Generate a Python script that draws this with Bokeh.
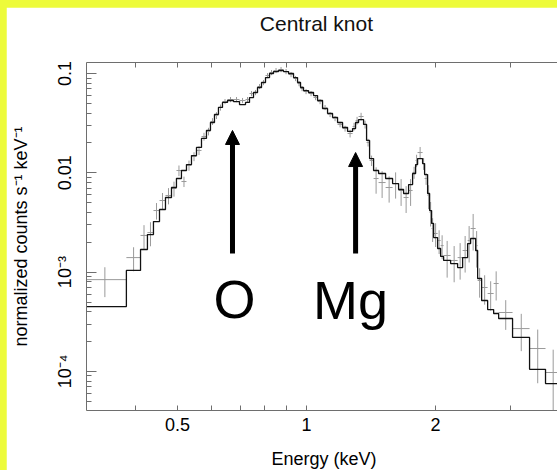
import numpy as np
from bokeh.plotting import figure
from bokeh.models import LogAxis, FixedTicker, Range1d, Arrow, NormalHead, Label
from bokeh.layouts import column
from bokeh.embed import file_html
from bokeh.resources import INLINE

# Central knot spectrum: folded model (histogram) and binned data, per energy channel
bin_edges = [
    0.297, 0.380, 0.410, 0.4255, 0.4395, 0.454, 0.4688, 0.4842, 0.4973, 0.5108,
    0.5248, 0.5391, 0.5538, 0.5689, 0.5843, 0.5970, 0.6100, 0.6232, 0.6368, 0.6542,
    0.6756, 0.6978, 0.7207, 0.7363, 0.7523, 0.7687, 0.7854, 0.8024, 0.8199, 0.8377,
    0.8605, 0.8840, 0.9081, 0.9328, 0.9531, 0.9686, 0.9843, 1.0111, 1.0387, 1.0613,
    1.0902, 1.1199, 1.1504, 1.1817, 1.2139, 1.2470, 1.2810, 1.3018, 1.3230, 1.3590,
    1.3811, 1.4036, 1.4341, 1.4731, 1.5297, 1.5883, 1.6403, 1.6850, 1.7309, 1.7685,
    1.7973, 1.8167, 1.8662, 1.8864, 1.9171, 1.9378, 1.9587, 1.9799, 2.0229, 2.0558,
    2.0892, 2.1693, 2.2524, 2.3138, 2.3768, 2.4155, 2.4813, 2.5081, 2.5626, 2.6467,
    2.7335, 2.8080, 3.0259, 3.3153, 3.6121, 3.9156,
]

model_rate = [
    4.50e-4, 1.04e-3, 1.69e-3, 2.39e-3, 3.23e-3, 4.27e-3, 5.64e-3, 7.11e-3, 8.76e-3, 1.055e-2,
    1.21e-2, 1.49e-2, 1.80e-2, 2.22e-2, 2.67e-2, 3.21e-2, 3.87e-2, 4.55e-2, 5.11e-2, 5.35e-2,
    5.22e-2, 4.87e-2, 5.11e-2, 5.73e-2, 6.44e-2, 7.23e-2, 8.12e-2, 9.11e-2, 0.100, 0.1047,
    0.1072, 0.1047, 0.100, 9.11e-2, 8.12e-2, 7.23e-2, 6.74e-2, 6.44e-2, 6.00e-2, 5.35e-2,
    4.44e-2, 3.96e-2, 3.61e-2, 3.21e-2, 2.86e-2, 2.61e-2, 2.79e-2, 3.21e-2, 3.44e-2, 3.07e-2,
    2.12e-2, 1.39e-2, 1.055e-2, 9.84e-3, 8.76e-3, 7.80e-3, 6.79e-3, 6.19e-3, 7.62e-3, 9.84e-3,
    1.21e-2, 1.39e-2, 1.24e-2, 9.61e-3, 6.19e-3, 4.17e-3, 3.09e-3, 2.23e-3, 1.73e-3, 1.44e-3,
    1.31e-3, 1.22e-3, 1.11e-3, 1.40e-3, 1.94e-3, 2.18e-3, 1.65e-3, 8.62e-4, 5.18e-4, 4.20e-4,
    3.83e-4, 3.41e-4, 2.20e-4, 1.05e-4, 7.55e-5,
]

data_rate = [
    8.4e-4, 1.40e-3, 2.34e-3, 2.50e-3, 4.17e-3, 5.26e-3, 5.91e-3, 6.95e-3, 1.055e-2, 8.17e-3,
    1.19e-2, 1.46e-2, 1.68e-2, 2.32e-2, 2.61e-2, 3.29e-2, 3.78e-2, 4.55e-2, 5.22e-2, 5.47e-2,
    5.47e-2, 5.35e-2, 5.47e-2, 6.29e-2, 6.44e-2, 7.40e-2, 8.12e-2, 9.54e-2, 0.1023, 0.1072,
    0.1097, 0.1047, 9.77e-2, 8.91e-2, 7.93e-2, 7.06e-2, 6.59e-2, 6.29e-2, 5.73e-2, 5.22e-2,
    4.55e-2, 3.87e-2, 3.52e-2, 3.07e-2, 2.79e-2, 2.49e-2, 2.93e-2, 3.36e-2, 3.69e-2, 3.07e-2,
    2.02e-2, 1.33e-2, 8.76e-3, 7.98e-3, 7.11e-3, 7.80e-3, 6.64e-3, 5.64e-3, 6.64e-3, 1.01e-2,
    1.33e-2, 1.60e-2, 1.24e-2, 8.76e-3, 5.91e-3, 3.98e-3, 2.75e-3, 2.45e-3, 2.08e-3, 1.85e-3,
    1.47e-3, 1.31e-3, 1.40e-3, 1.65e-3, 2.08e-3, 2.75e-3, 1.85e-3, 8.23e-4, 7.0e-4, 6.09e-4,
    7.68e-4, 3.92e-4, 2.70e-4, 1.70e-4, 9.75e-5,
]

data_err = [
    2.8e-4, 3.8e-4, 6.3e-4, 6.8e-4, 7.9e-4, 1.0e-3, 1.1e-3, 1.2e-3, 1.3e-3, 9.8e-4,
    1.4e-3, 1.5e-3, 1.7e-3, 2.1e-3, 2.3e-3, 2.6e-3, 3.0e-3, 3.2e-3, 3.1e-3, 3.3e-3,
    3.3e-3, 3.2e-3, 3.3e-3, 3.8e-3, 3.9e-3, 4.4e-3, 4.9e-3, 5.7e-3, 6.1e-3, 6.4e-3,
    6.6e-3, 6.3e-3, 5.9e-3, 5.3e-3, 4.8e-3, 4.2e-3, 4.0e-3, 3.8e-3, 3.4e-3, 3.1e-3,
    2.7e-3, 2.3e-3, 2.1e-3, 2.0e-3, 1.9e-3, 2.2e-3, 2.6e-3, 3.0e-3, 3.3e-3, 2.8e-3,
    1.8e-3, 1.6e-3, 2.6e-3, 2.4e-3, 2.1e-3, 2.3e-3, 2.0e-3, 1.7e-3, 2.0e-3, 1.4e-3,
    1.9e-3, 2.2e-3, 1.7e-3, 1.2e-3, 1.6e-3, 1.1e-3, 7.4e-4, 6.6e-4, 5.6e-4, 5.0e-4,
    5.9e-4, 5.2e-4, 5.6e-4, 6.6e-4, 8.3e-4, 1.1e-3, 7.4e-4, 2.7e-4, 2.3e-4, 2.0e-4,
    2.5e-4, 1.3e-4, 1.1e-4, 9.4e-5, 6.8e-5,
]

# Tick positions and labels
x_major = [0.5, 1, 2]
x_minor = [0.4, 0.6, 0.7, 0.8, 0.9, 3]
x_labels = {0.5: "0.5", 1: "1", 2: "2"}
y_major = [1e-4, 1e-3, 1e-2, 1e-1]
y_labels = {0.1: "0.1", 0.01: "0.01", 0.001: "10\u207b\u00b3", 0.0001: "10\u207b\u2074"}

# Emission lines marked with arrows
line_names = ["O", "Mg"]
line_energy = [0.672, 1.302]
arrow_tail = [1.54e-3, 1.54e-3]
arrow_tip = [2.67e-2, 1.60e-2]
label_energy = [0.679, 1.267]
label_rate = [5.42e-4, 5.18e-4]

# heading, centred over this energy on the top edge
title_text = "Central knot"
title_energy = 1.055

assert len(bin_edges) == len(model_rate) + 1
assert len(model_rate) == len(data_rate) == len(data_err)

FONT = "Liberation Sans"
AXIS_GREY = "#6e6e6e"
PAGE_YELLOW = "#edfb3a"
X_RANGE = (0.3067, 3.936)
Y_RANGE = (4.04e-5, 0.1291)

edges = np.array(bin_edges)
lo, hi = edges[:-1], edges[1:]
centre = 0.5 * (lo + hi)
rate = np.array(data_rate)
err = np.array(data_err)

p = figure(
    width=555, height=468,
    x_axis_type="log", y_axis_type="log",
    x_range=Range1d(*X_RANGE), y_range=Range1d(*Y_RANGE),
    output_backend="svg", toolbar_location=None,
    min_border_left=80, min_border_right=0, min_border_top=55, min_border_bottom=65,
    background_fill_color="white", border_fill_color="white",
)
p.title.visible = False
p.outline_line_color = None
p.grid.visible = False

# data crosses
p.segment(x0=lo, y0=rate, x1=hi, y1=rate, line_color="#9a9a9a", line_width=1)
p.segment(x0=centre, y0=np.clip(rate - err, 1e-6, None), x1=centre, y1=rate + err,
          line_color="#9a9a9a", line_width=1)

# folded model
p.step(x=list(edges), y=list(model_rate) + [model_rate[-1]], mode="after",
       line_color="#111111", line_width=1.3)

y_minor = [k * 10.0 ** d for d in range(-5, 0) for k in range(2, 10)]


def style_axis(ax, ticker, major_len, labels=None):
    ax.ticker = ticker
    ax.axis_line_color = AXIS_GREY
    ax.major_tick_line_color = AXIS_GREY
    ax.minor_tick_line_color = AXIS_GREY
    ax.major_tick_in = major_len
    ax.major_tick_out = 0
    ax.minor_tick_in = 5
    ax.minor_tick_out = 0
    ax.major_label_text_font = FONT
    ax.major_label_text_font_size = "18px"
    ax.major_label_text_color = "black"
    ax.axis_label_text_font = FONT
    ax.axis_label_text_font_style = "normal"
    ax.axis_label_text_color = "black"
    ax.axis_label_text_font_size = "18px"
    if labels is not None:
        ax.major_label_overrides = labels


xa = p.xaxis[0]
style_axis(xa, FixedTicker(ticks=x_major, minor_ticks=x_minor), 5, x_labels)
xa.axis_label = "Energy (keV)"
xa.major_label_standoff = 7
xa.axis_label_standoff = 15

ya = p.yaxis[0]
style_axis(ya, FixedTicker(ticks=y_major, minor_ticks=y_minor), 10, y_labels)
ya.axis_label = "normalized counts s\u207b\u00b9 keV\u207b\u00b9"
ya.major_label_orientation = "vertical"
ya.major_label_standoff = 11
ya.axis_label_standoff = 22

# top edge: minor ticks, with the heading carried as its single (tickless) label
top = LogAxis()
style_axis(top, FixedTicker(ticks=[title_energy], minor_ticks=x_minor + x_major), 0,
           {title_energy: title_text})
top.major_tick_line_color = None
top.major_label_text_font_size = "21px"
top.major_label_text_color = "#111111"
top.major_label_standoff = 28
p.add_layout(top, "above")

for name, e, t0, t1, le, lr in zip(line_names, line_energy, arrow_tail, arrow_tip,
                                   label_energy, label_rate):
    p.add_layout(Arrow(
        end=NormalHead(size=14, fill_color="black", line_color="black", line_width=1),
        x_start=e, y_start=t0, x_end=e, y_end=t1,
        line_color="black", line_width=5,
    ))
    p.add_layout(Label(
        x=le, y=lr, text=name, text_font=FONT, text_font_size="54px",
        text_align="center", text_baseline="middle", text_color="black",
    ))

p.margin = (7, 0, 0, 6)
page = column(p, width=557, height=470,
              styles={"background-color": PAGE_YELLOW, "overflow": "hidden"})

open("out.html", "w").write(file_html(page, INLINE))
